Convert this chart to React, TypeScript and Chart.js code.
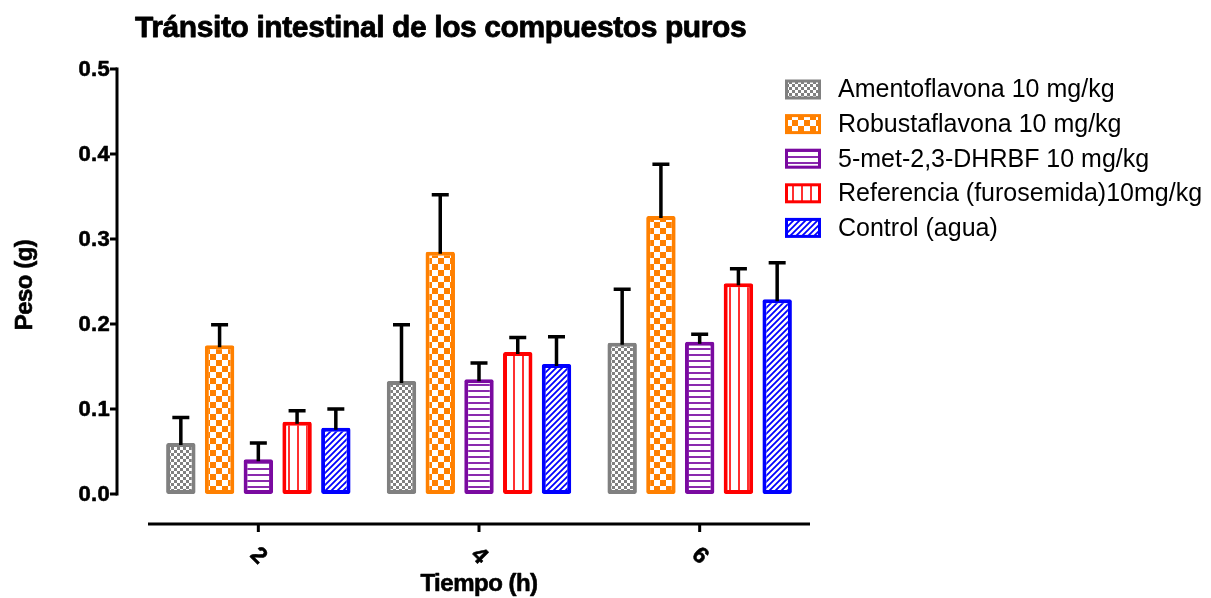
import React, { useEffect, useRef } from "react";
import { Chart, registerables } from "chart.js";

Chart.register(...registerables);

// Time points (h)
const categories = ["2", "4", "6"];

// Mean weight (g) per treatment and time point
const amentoflavona = [0.060, 0.133, 0.178];
const robustaflavona = [0.175, 0.285, 0.327];
const dhrbf = [0.041, 0.135, 0.179];
const referencia = [0.085, 0.167, 0.248];
const control = [0.078, 0.153, 0.229];

// Upper error (SEM, g)
const amentoflavonaErr = [0.030, 0.066, 0.063];
const robustaflavonaErr = [0.024, 0.067, 0.061];
const dhrbfErr = [0.019, 0.019, 0.009];
const referenciaErr = [0.013, 0.017, 0.017];
const controlErr = [0.022, 0.032, 0.043];

const seriesNames = [
  "Amentoflavona 10 mg/kg",
  "Robustaflavona 10 mg/kg",
  "5-met-2,3-DHRBF 10 mg/kg",
  "Referencia (furosemida)10mg/kg",
  "Control (agua)",
];

const yTicks = [0, 0.1, 0.2, 0.3, 0.4, 0.5];
const yTickLabels = ["0.0", "0.1", "0.2", "0.3", "0.4", "0.5"];

const titleText = "Tránsito intestinal de los compuestos puros";
const xTitle = "Tiempo (h)";
const yTitle = "Peso (g)";

const FONT = '"Liberation Sans", Arial, Helvetica, sans-serif';

type PatternKind = "fineCheck" | "coarseCheck" | "hLines" | "vLines" | "diag";

function makePattern(kind: PatternKind, color: string, lineColor?: string): CanvasPattern | string {
  const c = document.createElement("canvas");
  let size = 6;
  if (kind === "coarseCheck") size = 12;
  if (kind === "vLines") size = 9;
  c.width = size;
  c.height = size;
  const g = c.getContext("2d");
  if (!g) return color;
  g.fillStyle = "#ffffff";
  g.fillRect(0, 0, size, size);
  g.fillStyle = lineColor || color;
  g.strokeStyle = lineColor || color;
  if (kind === "fineCheck") {
    g.fillRect(0, 0, 3, 3);
    g.fillRect(3, 3, 3, 3);
  } else if (kind === "coarseCheck") {
    g.fillRect(0, 0, 6, 6);
    g.fillRect(6, 6, 6, 6);
  } else if (kind === "hLines") {
    g.fillRect(0, 0, size, 2);
  } else if (kind === "vLines") {
    g.fillRect(0, 0, 2, size);
  } else if (kind === "diag") {
    g.lineWidth = 1.8;
    g.beginPath();
    g.moveTo(-1, size + 1);
    g.lineTo(size + 1, -1);
    g.moveTo(-1, 1);
    g.lineTo(1, -1);
    g.moveTo(size - 1, size + 1);
    g.lineTo(size + 1, size - 1);
    g.stroke();
  }
  const ctx2 = document.createElement("canvas").getContext("2d");
  const p = ctx2 ? ctx2.createPattern(c, "repeat") : null;
  return p || color;
}

const seriesColors = ["#808080", "#ff8000", "#7a0aa0", "#ff0000", "#0000ff"];
const seriesPatterns: PatternKind[] = ["fineCheck", "coarseCheck", "hLines", "vLines", "diag"];
const seriesLineColors = ["#808080", "#ff8000", "#8a2aae", "#ff3030", "#0000ff"];

const seriesValues = [amentoflavona, robustaflavona, dhrbf, referencia, control];
const seriesErrors = [amentoflavonaErr, robustaflavonaErr, dhrbfErr, referenciaErr, controlErr];

// Draws text with a thin outline so bold glyphs look heavier
function heavyText(ctx: CanvasRenderingContext2D, text: string, x: number, y: number, w: number) {
  ctx.lineWidth = w;
  ctx.lineJoin = "round";
  ctx.strokeText(text, x, y);
  ctx.fillText(text, x, y);
}

const decorPlugin = {
  id: "decor",
  afterDatasetsDraw(chart: any) {
    const ctx: CanvasRenderingContext2D = chart.ctx;
    const yScale = chart.scales.y;
    ctx.save();
    // upper error bars
    ctx.strokeStyle = "#000";
    ctx.lineWidth = 3.5;
    ctx.lineCap = "butt";
    chart.data.datasets.forEach((ds: any, i: number) => {
      const meta = chart.getDatasetMeta(i);
      meta.data.forEach((el: any, j: number) => {
        const v = ds.data[j];
        const e = seriesErrors[i][j];
        const yTop = yScale.getPixelForValue(v + e);
        const yBar = yScale.getPixelForValue(v);
        ctx.beginPath();
        ctx.moveTo(el.x, yBar + 2);
        ctx.lineTo(el.x, yTop);
        ctx.moveTo(el.x - 8.5, yTop);
        ctx.lineTo(el.x + 8.5, yTop);
        ctx.stroke();
      });
    });
    ctx.restore();
  },
  afterDraw(chart: any) {
    const ctx: CanvasRenderingContext2D = chart.ctx;
    const yScale = chart.scales.y;
    const xScale = chart.scales.x;
    const area = chart.chartArea;
    ctx.save();
    ctx.fillStyle = "#000";
    ctx.strokeStyle = "#000";
    ctx.lineWidth = 3;

    // Y axis
    const yAxisX = 117;
    const yMin = yScale.getPixelForValue(0);
    const yMax = yScale.getPixelForValue(0.5);
    ctx.beginPath();
    ctx.moveTo(yAxisX, yMax - 1.5);
    ctx.lineTo(yAxisX, yMin + 1.5);
    ctx.stroke();
    yTicks.forEach((t) => {
      const y = yScale.getPixelForValue(t);
      ctx.lineWidth = 3;
      ctx.beginPath();
      ctx.moveTo(yAxisX - 7, y);
      ctx.lineTo(yAxisX, y);
      ctx.stroke();
    });
    ctx.font = `bold 22px ${FONT}`;
    ctx.textAlign = "right";
    ctx.textBaseline = "middle";
    (ctx as any).letterSpacing = "0.3px";
    yTicks.forEach((t, k) => {
      const y = yScale.getPixelForValue(t);
      heavyText(ctx, yTickLabels[k], yAxisX - 7, y + 1, 0.6);
    });
    (ctx as any).letterSpacing = "0px";

    // X axis
    const xAxisY = 524;
    ctx.lineWidth = 3;
    ctx.beginPath();
    ctx.moveTo(area.left, xAxisY);
    ctx.lineTo(area.right, xAxisY);
    ctx.stroke();
    categories.forEach((c, k) => {
      const x = xScale.getPixelForValue(k);
      ctx.lineWidth = 3;
      ctx.beginPath();
      ctx.moveTo(x, xAxisY);
      ctx.lineTo(x, xAxisY + 8);
      ctx.stroke();
    });
    ctx.font = `bold 23px ${FONT}`;
    ctx.textAlign = "center";
    ctx.textBaseline = "middle";
    categories.forEach((c, k) => {
      const x = xScale.getPixelForValue(k);
      ctx.save();
      ctx.translate(x, 556);
      ctx.rotate(Math.PI / 4);
      heavyText(ctx, c, 0, 0, 0.6);
      ctx.restore();
    });

    // Axis titles
    ctx.font = `bold 24px ${FONT}`;
    (ctx as any).letterSpacing = "-0.5px";
    ctx.textAlign = "center";
    ctx.textBaseline = "alphabetic";
    heavyText(ctx, xTitle, xScale.getPixelForValue(1), 591, 0.6);
    ctx.save();
    ctx.translate(32, 285);
    ctx.rotate(-Math.PI / 2);
    heavyText(ctx, yTitle, 0, 0, 0.6);
    ctx.restore();

    // Chart title
    ctx.font = `bold 30px ${FONT}`;
    (ctx as any).letterSpacing = "-0.4px";
    ctx.textAlign = "left";
    heavyText(ctx, titleText, 135, 37, 0.8);
    (ctx as any).letterSpacing = "0px";

    // Legend
    ctx.font = `25px ${FONT}`;
    ctx.textBaseline = "middle";
    chart.data.datasets.forEach((ds: any, i: number) => {
      const cy = 89.5 + 34.6 * i;
      const bx = 785;
      const bw = 36;
      const bh = 20;
      ctx.fillStyle = seriesColors[i];
      ctx.fillRect(bx, cy - bh / 2, bw, bh);
      ctx.fillStyle = ds.backgroundColor;
      ctx.fillRect(bx + 3, cy - bh / 2 + 3, bw - 6, bh - 6);
      ctx.fillStyle = "#000";
      ctx.fillText(seriesNames[i], 838, cy + 1);
    });
    ctx.restore();
  },
};

export default function App() {
  const canvasRef = useRef<HTMLCanvasElement | null>(null);

  useEffect(() => {
    const canvas = canvasRef.current;
    if (!canvas) return;
    const datasets = seriesValues.map((vals, i) => ({
      label: seriesNames[i],
      data: vals,
      backgroundColor: makePattern(seriesPatterns[i], seriesColors[i], seriesLineColors[i]),
      borderColor: seriesColors[i],
      borderWidth: 4,
      borderSkipped: false,
      borderRadius: 2,
      categoryPercentage: 0.878,
      barPercentage: 0.76,
    }));
    const chart = new Chart(canvas, {
      type: "bar",
      data: { labels: categories, datasets: datasets as any },
      options: {
        animation: false,
        responsive: false,
        devicePixelRatio: 1,
        layout: { padding: { left: 148, right: 1211 - 810, top: 69, bottom: 598 - 494 } },
        scales: {
          x: { display: false },
          y: { display: false, min: 0, max: 0.5 },
        },
        plugins: {
          legend: { display: false },
          title: { display: false },
          tooltip: { enabled: false },
        },
      },
      plugins: [decorPlugin],
    });
    return () => chart.destroy();
  }, []);

  return (
    <div style={{ position: "fixed", left: 0, top: 0, width: 1211, height: 598, background: "#fff" }}>
      <canvas ref={canvasRef} width={1211} height={598} style={{ display: "block" }} />
    </div>
  );
}
